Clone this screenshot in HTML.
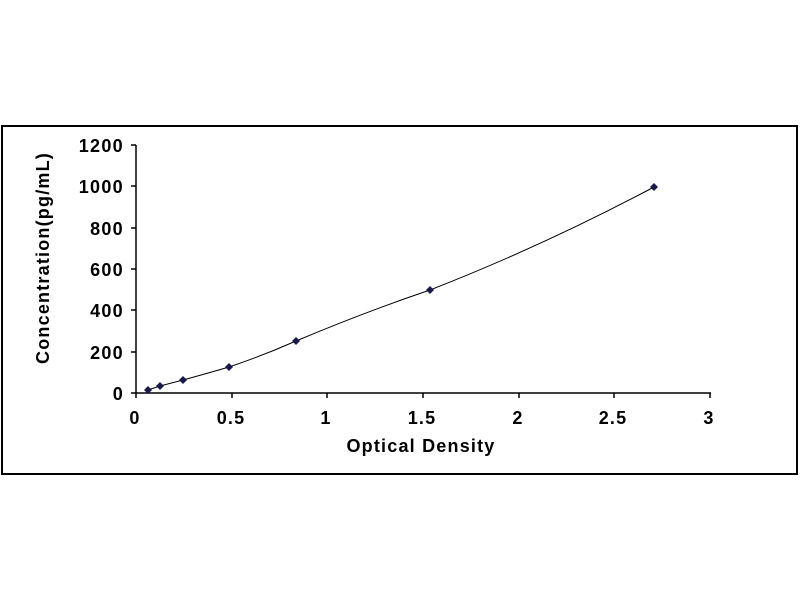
<!DOCTYPE html><html><head><style>body{margin:0;background:#fff}</style></head><body>
<svg width="800" height="600" xmlns="http://www.w3.org/2000/svg" font-family="Liberation Sans, sans-serif" font-weight="bold">
<rect x="0" y="0" width="800" height="600" fill="#fff"/>
<rect x="2" y="126" width="795" height="348" fill="none" stroke="#000" stroke-width="2"/>
<g stroke="#000" stroke-width="1.5">
<line x1="136" y1="145" x2="136" y2="393"/>
<line x1="136" y1="393" x2="711" y2="393"/>
<line x1="131" y1="145" x2="136" y2="145"/><line x1="131" y1="186" x2="136" y2="186"/>
<line x1="131" y1="228" x2="136" y2="228"/><line x1="131" y1="269" x2="136" y2="269"/>
<line x1="131" y1="310" x2="136" y2="310"/><line x1="131" y1="352" x2="136" y2="352"/>
<line x1="131" y1="393" x2="136" y2="393"/>
<line x1="136" y1="393" x2="136" y2="398"/><line x1="232" y1="393" x2="232" y2="398"/>
<line x1="327" y1="393" x2="327" y2="398"/><line x1="423" y1="393" x2="423" y2="398"/>
<line x1="519" y1="393" x2="519" y2="398"/><line x1="614" y1="393" x2="614" y2="398"/>
<line x1="710" y1="393" x2="710" y2="398"/>
</g>
<g font-size="18" letter-spacing="1.3" text-anchor="end">
<text x="124" y="152">1200</text><text x="124" y="193">1000</text><text x="124" y="235">800</text>
<text x="124" y="276">600</text><text x="124" y="317">400</text><text x="124" y="359">200</text><text x="124" y="400">0</text>
</g>
<g font-size="18" letter-spacing="1.2" text-anchor="middle">
<text x="135" y="424">0</text><text x="231" y="424">0.5</text><text x="326" y="424">1</text>
<text x="422" y="424">1.5</text><text x="518" y="424">2</text><text x="613" y="424">2.5</text><text x="709" y="424">3</text>
<text x="421" y="452">Optical Density</text>
<text transform="translate(49,258) rotate(-90)">Concentration(pg/mL)</text>
</g>
<path d="M148,390 L160,386 L183,380 Q205,374 229,367 Q262,356 296,341 Q365,312 430,290 Q545,245 654,187" fill="none" stroke="#000" stroke-width="1"/>
<g fill="#1a1a4a">
<path d="M148,386l4,4l-4,4l-4,-4z"/><path d="M160,382l4,4l-4,4l-4,-4z"/><path d="M183,376l4,4l-4,4l-4,-4z"/>
<path d="M229,363l4,4l-4,4l-4,-4z"/><path d="M296,337l4,4l-4,4l-4,-4z"/><path d="M430,286l4,4l-4,4l-4,-4z"/>
<path d="M654,183l4,4l-4,4l-4,-4z"/>
</g>
</svg></body></html>
